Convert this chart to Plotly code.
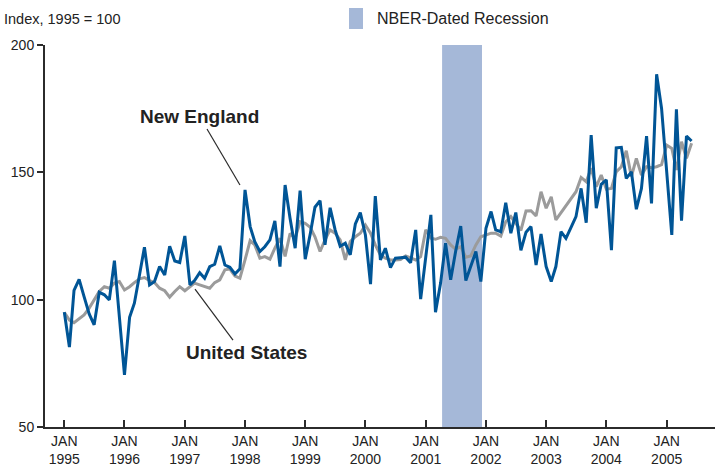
import pandas as pd
import plotly.graph_objects as go

# Monthly index values, Jan 1995 - Jun 2005 (1995 = 100)
new_england = [
    95.1, 81.4, 103.6, 108.0, 101.2, 94.4, 90.1, 102.9, 101.9, 99.9, 115.3, 93.3,
    70.5, 93.1, 98.6, 109.7, 120.6, 105.8, 107.1, 113.0, 109.7, 121.0, 115.2, 114.6,
    125.0, 105.8, 107.5, 110.6, 108.4, 113.0, 113.9, 121.1, 113.6, 112.7, 110.1, 112.1,
    143.1, 128.7, 122.8, 118.9, 120.8, 123.5, 130.9, 113.0, 145.0, 132.0, 120.2, 142.8,
    115.9, 126.0, 136.3, 138.9, 121.5, 136.1, 127.5, 121.0, 122.2, 117.6, 129.7, 134.2,
    125.4, 106.1, 140.7, 115.6, 120.2, 112.6, 116.3, 116.5, 116.7, 114.5, 127.4, 100.2,
    117.0, 133.3, 95.1, 106.5, 122.2, 107.8, 118.9, 128.9, 107.5, 113.3, 118.9, 107.1,
    128.0, 134.6, 127.4, 126.7, 138.1, 126.1, 134.2, 119.4, 126.5, 128.7, 113.6, 125.8,
    113.0, 107.1, 113.0, 126.7, 124.1, 128.4, 132.6, 143.7, 130.2, 164.6, 135.9, 145.3,
    147.0, 119.4, 159.6, 159.8, 147.6, 150.2, 135.5, 143.7, 164.2, 137.8, 188.5, 175.1,
    151.8, 125.4, 174.7, 131.0, 164.2, 162.3,
]
united_states = [
    95.0, 92.0, 91.0, 92.7, 94.0, 96.7, 99.9, 103.2, 105.1, 104.5, 106.5, 107.1,
    103.8, 105.1, 106.7, 108.2, 108.7, 107.5, 106.7, 104.5, 103.5, 101.0, 103.2, 105.1,
    103.5, 105.0, 106.5, 105.8, 105.1, 104.5, 106.7, 107.8, 111.7, 112.0, 109.3, 108.4,
    115.6, 123.2, 121.5, 116.3, 116.9, 115.9, 120.2, 124.1, 117.0, 126.0, 124.1, 130.6,
    130.0, 128.4, 124.7, 118.9, 123.5, 127.4, 126.1, 123.5, 115.6, 122.8, 124.7, 126.1,
    129.3, 126.1, 121.5, 117.6, 116.3, 115.6, 115.6, 115.8, 117.2, 116.3, 115.6, 116.9,
    127.4, 124.1, 123.7, 124.5, 124.1, 121.5, 119.8, 120.8, 116.7, 117.2, 121.5, 124.7,
    125.4, 126.1, 126.1, 125.0, 130.6, 132.6, 130.0, 127.2, 134.8, 134.9, 132.9, 142.4,
    135.9, 140.4, 131.3, 134.2, 137.2, 139.8, 142.4, 148.0, 146.3, 151.6, 144.4, 148.9,
    143.4, 143.7, 150.2, 152.2, 158.5, 148.3, 155.5, 148.9, 152.2, 151.8, 152.2, 153.0,
    160.7, 159.4, 150.9, 162.0, 155.5, 161.4,
]
months = pd.date_range("1995-01-01", periods=len(new_england), freq="MS")

tick_years = list(range(1995, 2006))
tick_vals = [f"{y}-01-01" for y in tick_years]
tick_text = [f"JAN<br>{y}" for y in tick_years]
y_ticks = [50, 100, 150, 200]

recession_start = "2001-04-10"
recession_end = "2001-12-08"

BLUE = "rgb(0,85,150)"
GRAY = "rgb(155,155,155)"
SHADE = "rgb(165,184,216)"
AXIS = "#2b2b2b"
FONT = "Liberation Sans, Arial, sans-serif"

fig = go.Figure()
fig.add_trace(go.Scatter(x=months, y=united_states, mode="lines", name="United States",
                         line=dict(color=GRAY, width=3)))
fig.add_trace(go.Scatter(x=months, y=new_england, mode="lines", name="New England",
                         line=dict(color=BLUE, width=3)))

fig.add_shape(type="rect", xref="x", yref="y", x0=recession_start, x1=recession_end,
              y0=50, y1=200, fillcolor=SHADE, line=dict(width=0), layer="below")

# legend swatch + label
fig.add_shape(type="rect", xref="paper", yref="paper", x0=0.4537, x1=0.4746,
              y0=1.0419, y1=1.0969, fillcolor=SHADE, line=dict(width=0))
fig.add_annotation(xref="paper", yref="paper", x=0.4925, y=1.069, xanchor="left",
                   yanchor="middle", text="NBER-Dated Recession", showarrow=False,
                   font=dict(family=FONT, size=16, color="#222"))
fig.add_annotation(xref="paper", yref="paper", x=-0.064, y=1.069, xanchor="left",
                   yanchor="middle", text="Index, 1995 = 100", showarrow=False,
                   font=dict(family=FONT, size=14.5, color="#222"))

# series labels with leader lines
fig.add_annotation(xref="paper", yref="paper", x=0.2299, y=0.814, xanchor="center",
                   yanchor="middle", text="<b>New England</b>",
                   showarrow=False, font=dict(family=FONT, size=19, color="#222"))
fig.add_shape(type="line", xref="paper", yref="paper", x0=0.2418, y0=0.780, x1=0.291,
              y1=0.6335, line=dict(color=AXIS, width=1.2))
fig.add_annotation(xref="paper", yref="paper", x=0.300, y=0.196, xanchor="center",
                   yanchor="middle", text="<b>United States</b>",
                   showarrow=False, font=dict(family=FONT, size=19, color="#222"))
fig.add_shape(type="line", xref="paper", yref="paper", x0=0.2239, y0=0.361, x1=0.2806,
              y1=0.2277, line=dict(color=AXIS, width=1.2))

fig.update_layout(
    width=715, height=471,
    margin=dict(l=45, r=0, t=45, b=44),
    paper_bgcolor="white", plot_bgcolor="white",
    showlegend=False,
    font=dict(family=FONT, size=14, color="#222"),
    xaxis=dict(type="date", range=["1994-09-06", "2005-10-21"], tickvals=tick_vals,
               ticktext=tick_text, ticks="inside", ticklen=7, tickwidth=1.5, tickcolor=AXIS,
               showline=True, linecolor=AXIS, linewidth=2, showgrid=False, zeroline=False,
               tickfont=dict(family=FONT, size=14, color="#222")),
    yaxis=dict(range=[50, 200], tickvals=y_ticks, ticks="outside", ticklen=6, tickwidth=1.5,
               tickcolor=AXIS, showline=True, linecolor=AXIS, linewidth=2, showgrid=False,
               zeroline=False, tickfont=dict(family=FONT, size=14, color="#222")),
)

fig.write_html("out.html", config={"displayModeBar": False},
               post_script="document.body.style.margin='0';document.body.style.overflow='hidden';")
